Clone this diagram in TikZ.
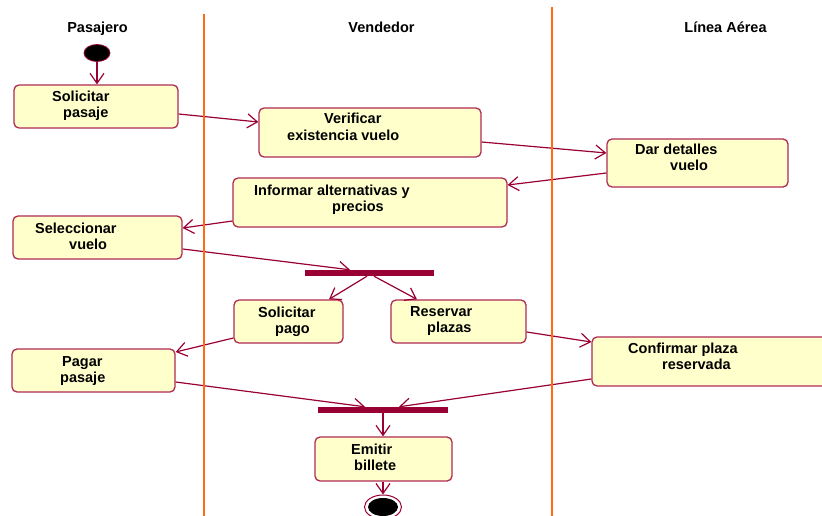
\documentclass[tikz,border=0pt]{standalone}
\usepackage{fontspec}
\setmainfont{Liberation Sans}
\usetikzlibrary{arrows.meta,shapes.geometric}
\definecolor{boxfill}{HTML}{FFFFCC}
\definecolor{boxline}{HTML}{B02A55}
\definecolor{conn}{HTML}{990033}
\definecolor{lane}{HTML}{FF6A13}
\begin{document}
\begin{tikzpicture}[x=1pt,y=-1pt,
  act/.style={draw=boxline, fill=boxfill, line width=1.3pt, rounded corners=5pt, inner sep=0pt},
  lbl/.style={font=\bfseries\fontsize{14.5}{16.5}\selectfont, inner sep=0pt, anchor=base west},
  hdr/.style={font=\bfseries\fontsize{14.5}{16.5}\selectfont, inner sep=0pt, anchor=base},
  syncbar/.style={fill=conn, draw=none, inner sep=0pt, minimum height=6pt},
  flow/.style={draw=conn, line width=1.2pt, -{Straight Barb[length=10pt,width=14pt,line width=1.2pt]}},
  lanel/.style={draw=lane, line width=2pt}]
\clip (0,0) rectangle (822,516);
\fill[white] (0,0) rectangle (822,516);

% headers
\node[hdr] (h1) at (97.5,33) {Pasajero};
\node[hdr] (h2) at (381.5,33) {Vendedor};
\node[hdr] (h3) at (725.5,33) {Línea Aérea};

% start / end
\node[ellipse, fill=black, draw=conn, line width=0.8pt, minimum width=26pt, minimum height=17pt, inner sep=0pt] (start) at (97,53) {};
\node[ellipse, fill=white, draw=conn, line width=1pt, minimum width=37pt, minimum height=24pt, inner sep=0pt] (endo) at (383,507) {};
\node[ellipse, fill=black, draw=none, minimum width=30pt, minimum height=18pt, inner sep=0pt] (endi) at (383,507) {};

% activities
\node[act, minimum width=164pt, minimum height=43pt] (sp) at (96,106.5) {};
\node[act, minimum width=222pt, minimum height=49pt] (vv) at (370,132.5) {};
\node[act, minimum width=181pt, minimum height=48pt] (dd) at (697.5,163) {};
\node[act, minimum width=274pt, minimum height=49pt] (ia) at (370,202.5) {};
\node[act, minimum width=169pt, minimum height=43pt] (sv) at (97.5,237.5) {};
\node[act, minimum width=109pt, minimum height=43pt] (spg) at (288.5,321.5) {};
\node[act, minimum width=135pt, minimum height=43pt] (rp) at (458.5,321.5) {};
\node[act, minimum width=163pt, minimum height=43pt] (pp) at (93.5,370.5) {};
\node[act, minimum width=258pt, minimum height=49pt] (cp) at (721,361.5) {};
\node[act, minimum width=137pt, minimum height=44pt] (eb) at (383.5,459) {};

% sync bars
\node[syncbar, minimum width=129pt] (f1) at (369.5,273) {};
\node[syncbar, minimum width=130pt] (f2) at (383,410) {};

% labels
\node[lbl] (sp1) at (52,102) {Solicitar};
\node[lbl] (sp2) at (63,118) {pasaje};
\node[lbl] (vv1) at (324,124) {Verificar};
\node[lbl] (vv2) at (287,141) {existencia vuelo};
\node[lbl] (dd1) at (635,155) {Dar detalles};
\node[lbl] (dd2) at (670,171) {vuelo};
\node[lbl] (ia1) at (254,195) {Informar alternativas y};
\node[lbl] (ia2) at (332,211) {precios};
\node[lbl] (sv1) at (35,233) {Seleccionar};
\node[lbl] (sv2) at (69,249) {vuelo};
\node[lbl] (spg1) at (258,317) {Solicitar};
\node[lbl] (spg2) at (275,333) {pago};
\node[lbl] (rp1) at (410,316) {Reservar};
\node[lbl] (rp2) at (427,332) {plazas};
\node[lbl] (pp1) at (62,366) {Pagar};
\node[lbl] (pp2) at (60,382) {pasaje};
\node[lbl] (cp1) at (628,353) {Confirmar plaza};
\node[lbl] (cp2) at (662,369) {reservada};
\node[lbl] (eb1) at (351,454) {Emitir};
\node[lbl] (eb2) at (354,470) {billete};

% connectors
\draw[flow] (start) -- (start |- sp.north);
\draw[flow] ([yshift=-7.5pt]sp.east) -- ([yshift=10.5pt]vv.west);
\draw[flow] ([yshift=-9.5pt]vv.east) -- ([yshift=10pt]dd.west);
\draw[flow] ([yshift=-10pt]dd.west) -- ([yshift=17.5pt]ia.east);
\draw[flow] ([yshift=-18.5pt]ia.west) -- ([yshift=9.5pt]sv.east);
\draw[flow] ([yshift=-11.5pt]sv.east) -- ([xshift=-19.5pt]f1.north);
\draw[flow] ([xshift=-2.5pt]f1.south) -- ([xshift=40.5pt]spg.north);
\draw[flow] ([xshift=4.5pt]f1.south) -- ([xshift=-41.5pt]rp.north);
\draw[flow] ([yshift=-16.5pt]spg.west) -- ([yshift=18.5pt]pp.east);
\draw[flow] ([yshift=-10.5pt]rp.east) -- ([yshift=19.5pt]cp.west);
\draw[flow] ([yshift=-11.5pt]pp.east) -- ([xshift=-18pt]f2.north);
\draw[flow] ([yshift=-17.5pt]cp.west) -- ([xshift=16pt]f2.north);
\draw[flow] (f2.south) -- (f2.south |- eb.north);
\draw[flow] (eb.south -| endo) -- (endo.north);

% swimlane separators
\draw[lanel] (204,14) -- (204,516);
\draw[lanel] (552,7) -- (552,516);
\end{tikzpicture}
\end{document}
